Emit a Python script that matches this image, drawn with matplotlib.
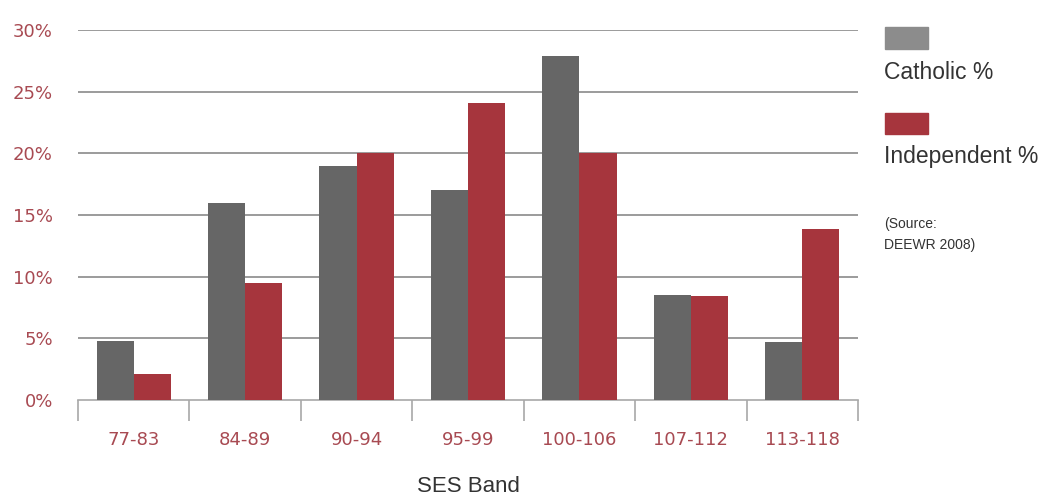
import numpy as np
import matplotlib
matplotlib.use("Agg")
import matplotlib.pyplot as plt
from matplotlib.patches import Rectangle

bands = ["77-83", "84-89", "90-94", "95-99", "100-106", "107-112", "113-118"]
catholic = [4.8, 16.0, 19.0, 17.0, 27.9, 8.5, 4.7]
independent = [2.1, 9.5, 20.0, 24.1, 20.0, 8.4, 13.9]
y_ticks = [0, 5, 10, 15, 20, 25, 30]

grey = "#666666"
red = "#a6353d"
label_red = "#a84a52"

fig = plt.figure(figsize=(10.45, 4.97), dpi=100)
ax = fig.add_axes([78 / 1045, 1 - 400 / 497, 780 / 1045, 370 / 497])

x = np.arange(len(bands))
w = 0.333
ax.bar(x - w / 2, catholic, w, color=grey, zorder=3)
ax.bar(x + w / 2, independent, w, color=red, zorder=3)

ax.set_xlim(-0.5, len(bands) - 0.5)
ax.set_ylim(0, 30)
ax.set_yticks(y_ticks)
ax.set_yticklabels([f"{t}%" for t in y_ticks], color=label_red, fontsize=13)
ax.tick_params(axis="y", length=0, pad=18)
for t in y_ticks[1:]:
    ax.axhline(t, color="#8a8a8a", lw=1.2, zorder=1)

# category labels at centres, separator ticks at boundaries
ax.set_xticks(x)
ax.set_xticklabels(bands, color=label_red, fontsize=13)
ax.tick_params(axis="x", which="major", length=0, pad=22)
ax.set_xticks(np.arange(len(bands) + 1) - 0.5, minor=True)
ax.tick_params(axis="x", which="minor", length=15, width=1.2, color="#a8a8a8", direction="out")

for s in ["top", "right", "left"]:
    ax.spines[s].set_visible(False)
ax.spines["bottom"].set_color("#a8a8a8")
ax.spines["bottom"].set_linewidth(1.2)

ax.set_xlabel("SES Band", fontsize=16, color="#333333", labelpad=20,
              family="Liberation Sans")

# legend block on the right
fig.add_artist(Rectangle((885 / 1045, 1 - 49 / 497), 43 / 1045, 22 / 497,
                         transform=fig.transFigure, color="#8c8c8c"))
fig.add_artist(Rectangle((885 / 1045, 1 - 134 / 497), 43 / 1045, 21 / 497,
                         transform=fig.transFigure, color=red))
fig.text(884 / 1045, 1 - 72 / 497, "Catholic %", fontsize=16.5, color="#333333",
         family="Liberation Sans", va="center")
fig.text(884 / 1045, 1 - 157 / 497, "Independent %", fontsize=16.5, color="#333333",
         family="Liberation Sans", va="center")
fig.text(884 / 1045, 1 - 224 / 497, "(Source:", fontsize=10, color="#333333",
         family="Liberation Sans", va="center")
fig.text(884 / 1045, 1 - 245 / 497, "DEEWR 2008)", fontsize=10, color="#333333",
         family="Liberation Sans", va="center")

fig.savefig("out.png", dpi=100)
